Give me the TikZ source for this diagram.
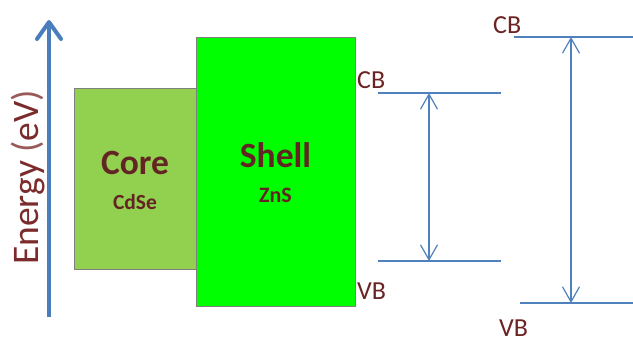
\documentclass[tikz,border=0pt]{standalone}
\usepackage{fontspec}
\setmainfont{Carlito}
\usetikzlibrary{arrows.meta}

\definecolor{coreGreen}{HTML}{92D050}
\definecolor{shellGreen}{HTML}{00FF00}
\definecolor{boxEdge}{HTML}{7F7F7F}
\definecolor{labelRed}{HTML}{632523}
\definecolor{bandRed}{HTML}{6B2323}
\definecolor{axisRed}{HTML}{7B2B2B}
\definecolor{parenRed}{HTML}{9A5A5A}
\definecolor{axisBlue}{HTML}{4A7EBB}
\definecolor{lineBlue}{HTML}{4F81BD}

\tikzset{
  bandbox/.style={draw=boxEdge, line width=1.3pt, inner sep=0pt, anchor=north west},
  bigname/.style={font=\fontsize{35.5}{40}\selectfont\bfseries, text=labelRed, anchor=base, inner sep=0pt},
  smallname/.style={font=\fontsize{22}{26}\selectfont\bfseries, text=labelRed, anchor=base, inner sep=0pt},
  bandlabel/.style={font=\fontsize{26}{30}\selectfont, text=bandRed, anchor=base west, inner sep=0pt},
  level/.style={draw=lineBlue, line width=1.3pt},
  gap/.style={draw=lineBlue, line width=1.2pt, {Straight Barb[length=15pt,width=17pt]}-{Straight Barb[length=15pt,width=17pt]}},
  axis/.style={draw=axisBlue, line width=4pt, -{Straight Barb[length=17pt,width=24pt,round]}}
}

\begin{document}
\begin{tikzpicture}[x=1pt, y=-1pt]
  \useasboundingbox (0,0) rectangle (633,342);

  % energy axis
  \coordinate (axisfoot) at (49,317);
  \coordinate (axistip) at (49,20);
  \draw[axis] (axisfoot) -- (axistip);
  \node[rotate=90, anchor=base west, inner sep=0pt,
        font=\fontsize{37.5}{42}\selectfont, text=axisRed] (energy) at (38,265)
        {Energy \textcolor{parenRed}{(}eV\textcolor{parenRed}{)}};

  % core and shell blocks
  \node[bandbox, fill=coreGreen, minimum width=122pt, minimum height=181pt] (core) at (74,88) {};
  \node[bandbox, fill=shellGreen, minimum width=159pt, minimum height=269pt] (shell) at (196,37) {};

  \node[bigname] (coretext) at (135,175) {Core};
  \node[smallname, font=\fontsize{21.5}{26}\selectfont\bfseries] (cdse) at (135,210) {CdSe};
  \node[bigname] (shelltext) at (275.5,168) {Shell};
  \node[smallname] (zns) at (275.5,203) {ZnS};

  % band edges of the core gap
  \node[bandlabel] (cb1) at (357,89) {CB};
  \node[bandlabel] (vb1) at (357,300) {VB};
  \coordinate (cbA) at (378,93);
  \coordinate (cbB) at (501,93);
  \coordinate (vbA) at (378,261);
  \coordinate (vbB) at (501,261);
  \draw[level] (cbA) -- (cbB);
  \draw[level] (vbA) -- (vbB);
  \coordinate (gapTop1) at (429,93);
  \coordinate (gapBot1) at (429,261);
  \draw[gap] (gapTop1) -- (gapBot1);

  % band edges of the shell gap
  \node[bandlabel] (cb2) at (493,34) {CB};
  \node[bandlabel] (vb2) at (499,337) {VB};
  \coordinate (cbC) at (514,37);
  \coordinate (cbD) at (633,37);
  \coordinate (vbC) at (520,303);
  \coordinate (vbD) at (633,303);
  \draw[level] (cbC) -- (cbD);
  \draw[level] (vbC) -- (vbD);
  \coordinate (gapTop2) at (571,37);
  \coordinate (gapBot2) at (571,303);
  \draw[gap] (gapTop2) -- (gapBot2);
\end{tikzpicture}
\end{document}
